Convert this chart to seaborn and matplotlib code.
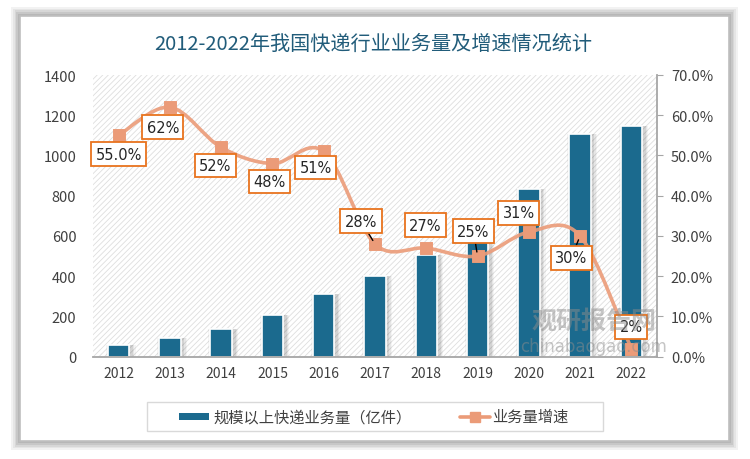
import matplotlib
matplotlib.use("Agg")
import matplotlib.pyplot as plt
import seaborn as sns
import numpy as np
import pandas as pd
from matplotlib.path import Path
from matplotlib.patches import PathPatch, Rectangle
from matplotlib.ticker import PercentFormatter, MultipleLocator

# data
years = ["2012", "2013", "2014", "2015", "2016", "2017",
         "2018", "2019", "2020", "2021", "2022"]
volume = [57, 91, 140, 207, 313, 401, 507, 635, 834, 1105, 1147]
growth = [55.0, 62, 52, 48, 51, 28, 27, 25, 31, 30, 2]
growth_labels = ["55.0%", "62%", "52%", "48%", "51%", "28%",
                 "27%", "25%", "31%", "30%", "2%"]

title = "2012-2022年我国快递行业业务量及增速情况统计"
bar_name = "规模以上快递业务量（亿件）"
line_name = "业务量增速"

BAR_C = "#1b6a8e"
LINE_C = "#eb9b78"
BOX_C = "#e8731e"
TXT_C = "#404040"

sns.set_style("white")
plt.rcParams['font.family'] = ['Noto Sans CJK SC', 'DejaVu Sans']
plt.rcParams['hatch.color'] = '#dedede'
plt.rcParams['hatch.linewidth'] = 0.6

fig = plt.figure(figsize=(7.5, 4.6), dpi=100)
fig.patch.set_facecolor("white")

# card with soft shadow
for i, a in enumerate([0.05, 0.05, 0.06, 0.07, 0.08]):
    d = (5 - i) * 0.004
    fig.patches.append(Rectangle((20 / 750 - d * 0.6, 18 / 460 - d), 709 / 750 + 2 * d * 0.6,
                                 425 / 460 + 2 * d, transform=fig.transFigure,
                                 facecolor="black", alpha=a, edgecolor="none", zorder=-3))
fig.patches.append(Rectangle((20 / 750, 18 / 460), 709 / 750, 425 / 460,
                             transform=fig.transFigure, facecolor="white",
                             edgecolor="#bfbfbf", linewidth=1.2, zorder=-2))

fig.text(0.497, 1 - 44 / 460, title, ha="center", va="center", fontsize=14.5,
         color="#215c7a")

ax = fig.add_axes([93 / 750, 1 - 357.7 / 460, 564 / 750, 281.7 / 460])
ax.set_facecolor("none")
ax.add_patch(Rectangle((0, 0), 1, 1, transform=ax.transAxes, facecolor="white",
                       hatch="//////", edgecolor="#dedede", linewidth=0, zorder=0))

df = pd.DataFrame({"year": years, "volume": volume, "growth": growth})
x = np.arange(len(years))

# soft bar shadows
for w, a in [(0.58, 0.04), (0.53, 0.06), (0.48, 0.08)]:
    ax.bar(x + 0.04, df["volume"] + 12, width=w, bottom=-12, color="#000000", alpha=a,
           zorder=1, linewidth=0)
sns.barplot(data=df, x="year", y="volume", color=BAR_C, saturation=1, width=0.42,
            edgecolor="white", linewidth=1.2, ax=ax, zorder=2)

ax.set_ylim(0, 1400)
ax.set_xlim(-0.5, len(years) - 0.5)
ax.yaxis.set_major_locator(MultipleLocator(200))
ax.set_xlabel("")
ax.set_ylabel("")
ax.tick_params(axis="y", length=0, labelsize=10.5, labelcolor=TXT_C, pad=12)
ax.tick_params(axis="x", length=0, labelsize=10, labelcolor=TXT_C, pad=7)
for s in ["left", "top", "right"]:
    ax.spines[s].set_visible(False)
ax.spines["bottom"].set_color("#a6a6a6")
ax.spines["bottom"].set_linewidth(1.3)

ax2 = ax.twinx()
ax2.set_ylim(0, 70)
ax2.yaxis.set_major_locator(MultipleLocator(10))
ax2.yaxis.set_major_formatter(PercentFormatter(decimals=1))
ax2.tick_params(axis="y", direction="out", length=4, color="#a6a6a6",
                labelsize=10.5, labelcolor=TXT_C, pad=6)
for s in ["left", "top", "bottom"]:
    ax2.spines[s].set_visible(False)
ax2.spines["right"].set_color("#a6a6a6")
ax2.spines["right"].set_linewidth(1.3)

# Excel-style smoothed line (Catmull-Rom as cubic Bezier through the data points)
pts = np.column_stack([x, growth]).astype(float)
verts = [pts[0]]
codes = [Path.MOVETO]
for i in range(len(pts) - 1):
    p0 = pts[i - 1] if i > 0 else pts[i]
    p1, p2 = pts[i], pts[i + 1]
    p3 = pts[i + 2] if i + 2 < len(pts) else pts[i + 1]
    verts += [p1 + (p2 - p0) / 6, p2 - (p3 - p1) / 6, p2]
    codes += [Path.CURVE4] * 3
ax2.add_patch(PathPatch(Path(verts, codes), facecolor="none", edgecolor=LINE_C,
                        linewidth=2.6, alpha=0.9, zorder=3))
sns.scatterplot(x=x, y=growth, marker="s", s=70, color=LINE_C, edgecolor=LINE_C,
                ax=ax2, zorder=4, legend=False)

# label offsets in pixels (style only)
offsets = [(0, -19), (-7, -20), (-6, -18), (-3, -18), (-8, -16), (-14, 23),
           (-1, 23), (-4, 25), (-10, 19), (-9, -22), (0, 22)]
leader = {5, 7, 9}
for i, (lab, off) in enumerate(zip(growth_labels, offsets)):
    kw = {}
    if i in leader:
        kw["arrowprops"] = dict(arrowstyle="-", color="black", lw=1.0,
                                shrinkA=0, shrinkB=3)
    ax2.annotate(lab, (x[i], growth[i]), xytext=off, textcoords="offset pixels",
                 ha="center", va="center", fontsize=10.5, color="#262626",
                 family=["DejaVu Sans"],
                 bbox=dict(boxstyle="square,pad=0.3", facecolor="white",
                           edgecolor=BOX_C, linewidth=1.3),
                 zorder=6, **kw)

# watermark (sits behind the 2% box as in the reference)
fig.text(594 / 750, 1 - 322 / 460, "观研报告网", fontsize=18, color="#8c8c8c", alpha=0.5,
         ha="center", va="center", fontweight="bold", zorder=1)
fig.text(594 / 750, 1 - 347 / 460, "chinabaogao.com", fontsize=12, color="#8c8c8c",
         alpha=0.5, ha="center", va="center", family=["DejaVu Sans"], zorder=1)

# legend box
fig.patches.append(Rectangle((147 / 750, 1 - 432 / 460), 456 / 750, 29 / 460,
                             transform=fig.transFigure, facecolor="white",
                             edgecolor="#d9d9d9", linewidth=1.0, zorder=1))
ly = 1 - 417.5 / 460
fig.patches.append(Rectangle((179 / 750, ly - 3.5 / 460), 30 / 750, 7 / 460,
                             transform=fig.transFigure, facecolor=BAR_C,
                             edgecolor="none", zorder=2))
fig.text(213 / 750, ly, bar_name, fontsize=11, color=TXT_C, va="center", ha="left")
fig.lines.append(plt.Line2D([460 / 750, 490 / 750], [ly, ly], transform=fig.transFigure,
                            color=LINE_C, lw=2.6, zorder=2))
fig.lines.append(plt.Line2D([475 / 750], [ly], transform=fig.transFigure,
                            color=LINE_C, marker="s", markersize=7, zorder=2))
fig.text(492 / 750, ly, line_name, fontsize=11, color=TXT_C, va="center", ha="left")

fig.savefig("out.png", dpi=100)
